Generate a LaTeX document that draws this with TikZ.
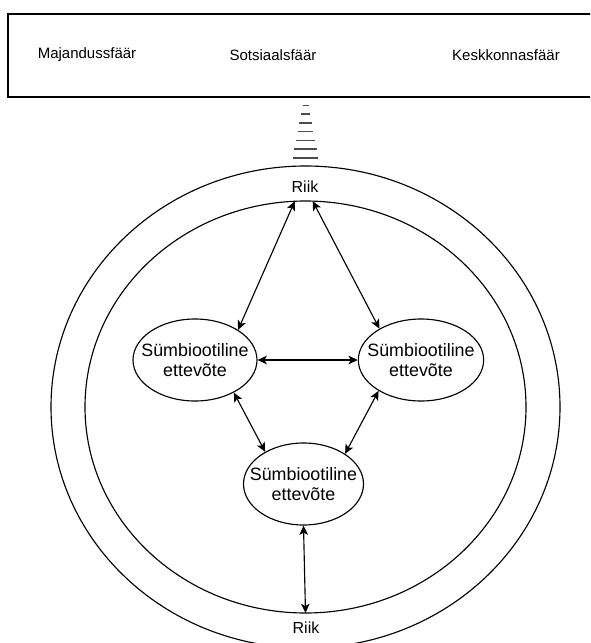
\documentclass[tikz,border=0pt]{standalone}
\usepackage{fontspec}
\setmainfont{Liberation Sans}
\usetikzlibrary{arrows.meta,shapes.geometric}
\tikzset{
   arrow/.style = {{Stealth[length=7pt,width=6.5pt,inset=1.8pt]}-{Stealth[length=7pt,width=6.5pt,inset=1.8pt]},line width=0.85pt},
   firm/.style = {ellipse,draw,line width=0.85pt,align=center,inner xsep=-16pt,inner ysep=0pt,font=\fontsize{13.4}{15}\selectfont},
}

\begin{document}
\begin{tikzpicture}[x=0.75pt,y=-0.75pt]

      \useasboundingbox (0,0) rectangle (590,643);
      \clip (0,0) rectangle (590,643);

      \node[
         rectangle,
         draw,
         line width = 1pt,
         minimum height=62.25pt,
         minimum width=444pt,
      ] (spheres) at (304,55.5){};

      \node[font=\fontsize{11.25}{13}\selectfont] (econ) at (87,55) {Majandussfäär};
      \node[font=\fontsize{11.25}{13}\selectfont] (social) at (273,55) {Sotsiaalsfäär};
      \node[font=\fontsize{11.25}{13}\selectfont] (envir) at (506,55) {Keskkonnasfäär};

      \foreach \i in {0,...,6}
         \draw[line width=1.2pt,black!70] ({304-1.5-1.65*\i},{105.5+8.7*\i}) -- ({307+1.5+1.65*\i},{105.5+8.7*\i});

      \node[
         ellipse,
         draw,
         line width = 0.85pt,
         inner sep=0pt,
         outer sep=0pt,
         minimum width=381.75pt,
         minimum height=361.5pt,
      ] (outer) at (305.5,407){};

      \node[
         ellipse,
         draw,
         line width = 0.85pt,
         inner sep=0pt,
         outer sep=0pt,
         minimum width=330.75pt,
         minimum height=309pt,
      ] (inner) at (305.5,407){};

      \node[font=\fontsize{12}{14}\selectfont] (statetop) at (305,187) {Riik};
      \node[font=\fontsize{12}{14}\selectfont] (statebot) at (306,628) {Riik};

      \node[firm, minimum width=93pt, minimum height=61.5pt] (left) at (195,360) {Sümbiootiline\\ettevõte};
      \node[firm, minimum width=94pt, minimum height=61.5pt] (right) at (421,360) {Sümbiootiline\\ettevõte};
      \node[firm, minimum width=90pt, minimum height=61.5pt] (bottom) at (303.5,484) {Sümbiootiline\\ettevõte};

      \draw[arrow] (left.35)    -- (inner.93);
      \draw[arrow] (right.143)  -- (inner.88);
      \draw[arrow] (left.east)  -- (right.west);
      \draw[arrow] (left.-40)   -- (bottom.140);
      \draw[arrow] (right.216)  -- (bottom.36);
      \draw[arrow] (bottom.south) -- (inner.south);

   \end{tikzpicture}
\end{document}
